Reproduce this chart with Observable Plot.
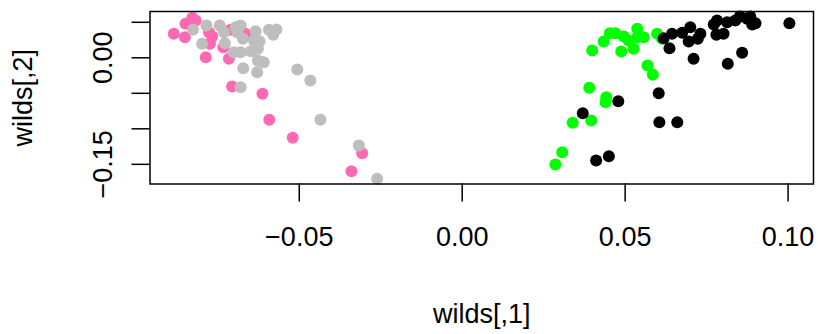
<!DOCTYPE html>
<html>
<head>
<meta charset="utf-8">
<script src="https://cdn.jsdelivr.net/npm/d3@7"></script>
<script src="https://cdn.jsdelivr.net/npm/@observablehq/plot@0.6"></script>
<style>
  html, body { margin: 0; padding: 0; background: #fff; }
</style>
</head>
<body>
<div id="chart"></div>
<script>
const pinkX = [-0.0885,-0.0851,-0.0849,-0.0828,-0.0818,-0.0777,-0.0767,-0.0774,-0.0733,-0.0711,-0.0665,-0.0787,-0.0716,-0.0706,-0.0613,-0.0592,-0.0520,-0.0307,-0.0340];
const pinkY = [0.0338,0.0290,0.0479,0.0563,0.0525,0.0361,0.0300,0.0197,0.0149,0.0394,0.0338,0.0008,-0.0014,-0.0404,-0.0507,-0.0873,-0.1127,-0.1344,-0.1597];

const grayX = [-0.0826,-0.0785,-0.0798,-0.0744,-0.0731,-0.0728,-0.0695,-0.0680,-0.0690,-0.0673,-0.0701,-0.0680,-0.0649,-0.0634,-0.0639,-0.0622,-0.0627,-0.0627,-0.0609,-0.0672,-0.0629,-0.0680,-0.0593,-0.0570,-0.0580,-0.0506,-0.0466,-0.0435,-0.0317,-0.0261];
const grayY = [0.0394,0.0455,0.0197,0.0455,0.0361,0.0206,0.0431,0.0455,0.0361,0.0268,0.0079,0.0079,0.0093,0.0375,0.0244,0.0234,0.0127,-0.0038,-0.0062,-0.0146,-0.0203,-0.0414,0.0394,0.0399,0.0324,-0.0165,-0.0320,-0.0873,-0.1235,-0.1704];

const greenX = [0.0399,0.0434,0.0453,0.0470,0.0496,0.0511,0.0537,0.0537,0.0557,0.0488,0.0526,0.0598,0.0613,0.0569,0.0585,0.0390,0.0442,0.0440,0.0339,0.0396,0.0307,0.0286];
const greenY = [0.0103,0.0230,0.0346,0.0346,0.0300,0.0244,0.0408,0.0290,0.0290,0.0089,0.0127,0.0338,0.0268,-0.0108,-0.0239,-0.0423,-0.0555,-0.0625,-0.0915,-0.0883,-0.1330,-0.1503];

const blackX = [0.0618,0.0644,0.0636,0.0675,0.0700,0.0695,0.0723,0.0731,0.0710,0.0772,0.0782,0.0780,0.0802,0.0813,0.0838,0.0852,0.0874,0.0884,0.0890,0.0900,0.0859,0.0815,0.1004,0.0603,0.0479,0.0370,0.0605,0.0660,0.0411,0.0450];
const blackY = [0.0276,0.0338,0.0135,0.0352,0.0431,0.0230,0.0268,0.0338,-0.0014,0.0469,0.0525,0.0324,0.0338,0.0501,0.0525,0.0582,0.0549,0.0582,0.0469,0.0487,0.0070,-0.0085,0.0487,-0.0499,-0.0611,-0.0780,-0.0907,-0.0907,-0.1446,-0.1386];

const groups = [
  {xs: pinkX, ys: pinkY, color: "#FF69B4"},
  {xs: grayX, ys: grayY, color: "#BEBEBE"},
  {xs: greenX, ys: greenY, color: "#00FF00"},
  {xs: blackX, ys: blackY, color: "#000000"}
];

const xTicks = [-0.05, 0, 0.05, 0.10];
const yTicks = [0.05, 0, -0.05, -0.10, -0.15];
const yLabelled = [0, -0.15];
const xTitle = "wilds[,1]";
const yTitle = "wilds[,2]";

const fmt = d3.format(".2f");

const dotMarks = groups.map(g =>
  Plot.dot(g.xs.map((x, i) => ({x, y: g.ys[i]})), {x: "x", y: "y", r: 6, fill: g.color, stroke: "none"})
);

const chart = Plot.plot({
  width: 818,
  height: 334,
  marginLeft: 149.5,
  marginRight: 5,
  marginTop: 11,
  marginBottom: 150.5,
  style: {fontFamily: "'Liberation Sans', Arial, Helvetica, sans-serif", fontSize: "27px", background: "#fff", color: "#000"},
  x: {domain: [-0.0958, 0.1078]},
  y: {domain: [-0.1777, 0.0652]},
  marks: [
    ...dotMarks,
    Plot.frame({stroke: "#000", strokeWidth: 1.5}),
    Plot.axisX(xTicks, {anchor: "bottom", tickSize: 18, tickPadding: 25, strokeWidth: 1.5, tickFormat: fmt, label: xTitle, labelArrow: "none", labelAnchor: "center", labelOffset: 139}),
    Plot.axisY(yTicks, {anchor: "left", tickSize: 18, tickPadding: 20, tickRotate: -90, strokeWidth: 1.5, tickFormat: d => yLabelled.includes(d) ? fmt(d) : "", label: yTitle, labelArrow: "none", labelAnchor: "center", labelOffset: 137})
  ]
});
document.getElementById("chart").appendChild(chart);
</script>
</body>
</html>
